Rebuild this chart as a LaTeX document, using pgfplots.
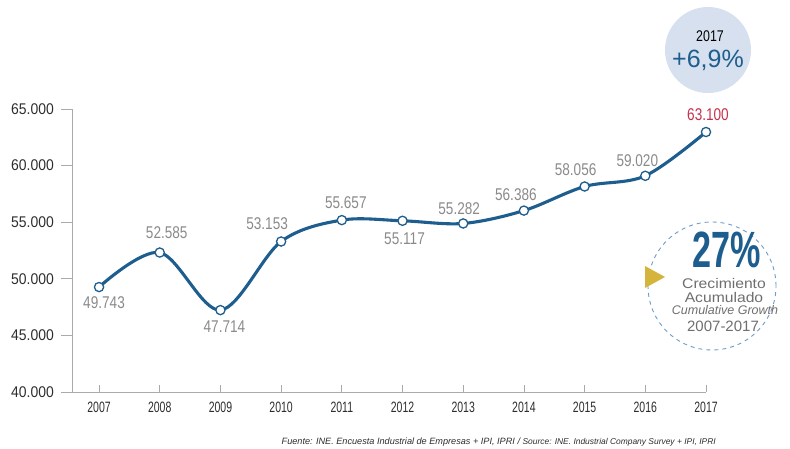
\documentclass[border=0pt]{standalone}
\usepackage{pgfplots}
\pgfplotsset{compat=1.18}
\usepackage{graphicx}
\usepackage{fontspec}
\setmainfont{Liberation Sans}
\newfontfamily\fnarrow{Liberation Sans}[FakeStretch=0.8]
\newfontfamily\fyear{Liberation Sans}[FakeStretch=0.7]
\newfontfamily\ftick{Liberation Sans}[FakeStretch=0.9]
\newfontfamily\fbig{Liberation Sans}[FakeStretch=0.67]
\newfontfamily\fwide{Liberation Sans}[FakeStretch=1.12]
\definecolor{linec}{RGB}{30,94,142}
\definecolor{labelgray}{RGB}{138,138,138}
\definecolor{tickc}{RGB}{45,45,45}
\definecolor{axisgray}{RGB}{170,170,170}
\definecolor{redc}{RGB}{196,49,75}
\definecolor{circfill}{RGB}{214,224,238}
\definecolor{dashc}{RGB}{110,155,200}
\definecolor{goldc}{RGB}{212,180,58}
\definecolor{textgray}{RGB}{110,110,110}
\begin{document}
\begin{tikzpicture}
\useasboundingbox (0,0) rectangle (790pt,448pt);
\begin{axis}[
  at={(72pt,56pt)}, anchor=south west,
  scale only axis, width=634pt, height=283pt,
  xmin=-0.4455, xmax=10, ymin=40, ymax=65,
  axis x line=bottom, axis y line=left,
  axis line style={-, draw=axisgray, line width=0.8pt},
  ytick={40,45,50,55,60,65},
  yticklabels={40.000,45.000,50.000,55.000,60.000,65.000},
  xtick={0,1,2,3,4,5,6,7,8,9,10},
  xticklabels={2007,2008,2009,2010,2011,2012,2013,2014,2015,2016,2017},
  tick align=outside, major tick length=11pt,
  xtick style={draw=none},
  ytick style={draw=axisgray, line width=0.8pt},
  yticklabel style={font=\ftick\fontsize{15.5}{15.5}\selectfont, text=tickc, anchor=east, inner sep=0pt, xshift=-7pt},
  xticklabel style={font=\fyear\fontsize{15}{15}\selectfont, text=tickc, anchor=center, inner sep=0pt, yshift=-4pt},
  clip=false,
]
\draw[axisgray, line width=0.8pt] (axis cs:-0.4455,40) -- ++(-11pt,0pt);
\draw[axisgray, line width=0.8pt] (axis cs:0,40) -- ++(0pt,7pt);
\draw[axisgray, line width=0.8pt] (axis cs:1,40) -- ++(0pt,7pt);
\draw[axisgray, line width=0.8pt] (axis cs:2,40) -- ++(0pt,7pt);
\draw[axisgray, line width=0.8pt] (axis cs:3,40) -- ++(0pt,7pt);
\draw[axisgray, line width=0.8pt] (axis cs:4,40) -- ++(0pt,7pt);
\draw[axisgray, line width=0.8pt] (axis cs:5,40) -- ++(0pt,7pt);
\draw[axisgray, line width=0.8pt] (axis cs:6,40) -- ++(0pt,7pt);
\draw[axisgray, line width=0.8pt] (axis cs:7,40) -- ++(0pt,7pt);
\draw[axisgray, line width=0.8pt] (axis cs:8,40) -- ++(0pt,7pt);
\draw[axisgray, line width=0.8pt] (axis cs:9,40) -- ++(0pt,7pt);
\draw[axisgray, line width=0.8pt] (axis cs:10,40) -- ++(0pt,7pt);
\addplot[linec, line width=3.1pt, smooth, tension=0.55,
  mark=*, mark size=4.6pt, mark options={fill=white, draw=linec, line width=1.3pt}]
  coordinates {
  (0,49.270) (1,52.320) (2,47.235) (3,53.295) (4,55.185) (5,55.124)
  (6,54.889) (7,56.025) (8,58.154) (9,59.099) (10,62.968)
  };
\tikzset{lbl/.style={font=\fnarrow\fontsize{17}{17}\selectfont, text=labelgray, inner sep=0pt}}
\node[lbl, xshift=5pt, yshift=-15.5pt] at (axis cs:0,49.270) {49.743};
\node[lbl, xshift=7pt, yshift=20pt] at (axis cs:1,52.320) {52.585};
\node[lbl, xshift=4pt, yshift=-17pt] at (axis cs:2,47.235) {47.714};
\node[lbl, xshift=-14pt, yshift=18pt] at (axis cs:3,53.295) {53.153};
\node[lbl, xshift=4pt, yshift=17pt] at (axis cs:4,55.185) {55.657};
\node[lbl, xshift=2pt, yshift=-18pt] at (axis cs:5,55.124) {55.117};
\node[lbl, xshift=-4pt, yshift=15pt] at (axis cs:6,54.889) {55.282};
\node[lbl, xshift=-8pt, yshift=16pt] at (axis cs:7,56.025) {56.386};
\node[lbl, xshift=-9pt, yshift=17pt] at (axis cs:8,58.154) {58.056};
\node[lbl, xshift=-8pt, yshift=15pt] at (axis cs:9,59.099) {59.020};
\node[lbl, text=redc, xshift=2pt, yshift=17pt] at (axis cs:10,62.968) {63.100};
\end{axis}
% top circle
\fill[circfill] (708pt,398pt) circle (43pt);
\node[font=\fnarrow\fontsize{15.5}{15.5}\selectfont, text=black, inner sep=0pt] at (710pt,412pt) {2017};
\node[font=\fontsize{25}{25}\selectfont, text=linec, inner sep=0pt] at (708pt,388pt) {+6,9\%};
% dashed circle
\draw[dashc, line width=0.9pt, dash pattern=on 4pt off 4pt] (712pt,162pt) circle (64pt);
\fill[goldc] (645pt,182pt) -- (665pt,171pt) -- (645pt,160pt) -- cycle;
\node[font=\fbig\bfseries\fontsize{51}{51}\selectfont, text=linec, inner sep=0pt] at (727pt,198pt) {27\%};
\node[font=\fwide\fontsize{14}{14}\selectfont, text=textgray, inner sep=0pt] at (724pt,165pt) {Crecimiento};
\node[font=\fwide\fontsize{14}{14}\selectfont, text=textgray, inner sep=0pt] at (724pt,151pt) {Acumulado};
\node[font=\itshape\fontsize{12.5}{12.5}\selectfont, text=textgray, inner sep=0pt] at (725pt,137.5pt) {Cumulative Growth};
\node[font=\fontsize{15}{15}\selectfont, text=textgray, inner sep=0pt] at (723pt,122pt) {2007-2017};
% source
\node[anchor=west, inner sep=0pt, text=tickc] at (281.5pt,6pt) {\resizebox{434pt}{!}{\itshape\fontsize{9}{9}\selectfont Fuente: INE. Encuesta Industrial de Empresas + IPI, IPRI / {\fontsize{8.3}{8.3}\selectfont Source: INE. Industrial Company Survey + IPI, IPRI}}};
\end{tikzpicture}
\end{document}
